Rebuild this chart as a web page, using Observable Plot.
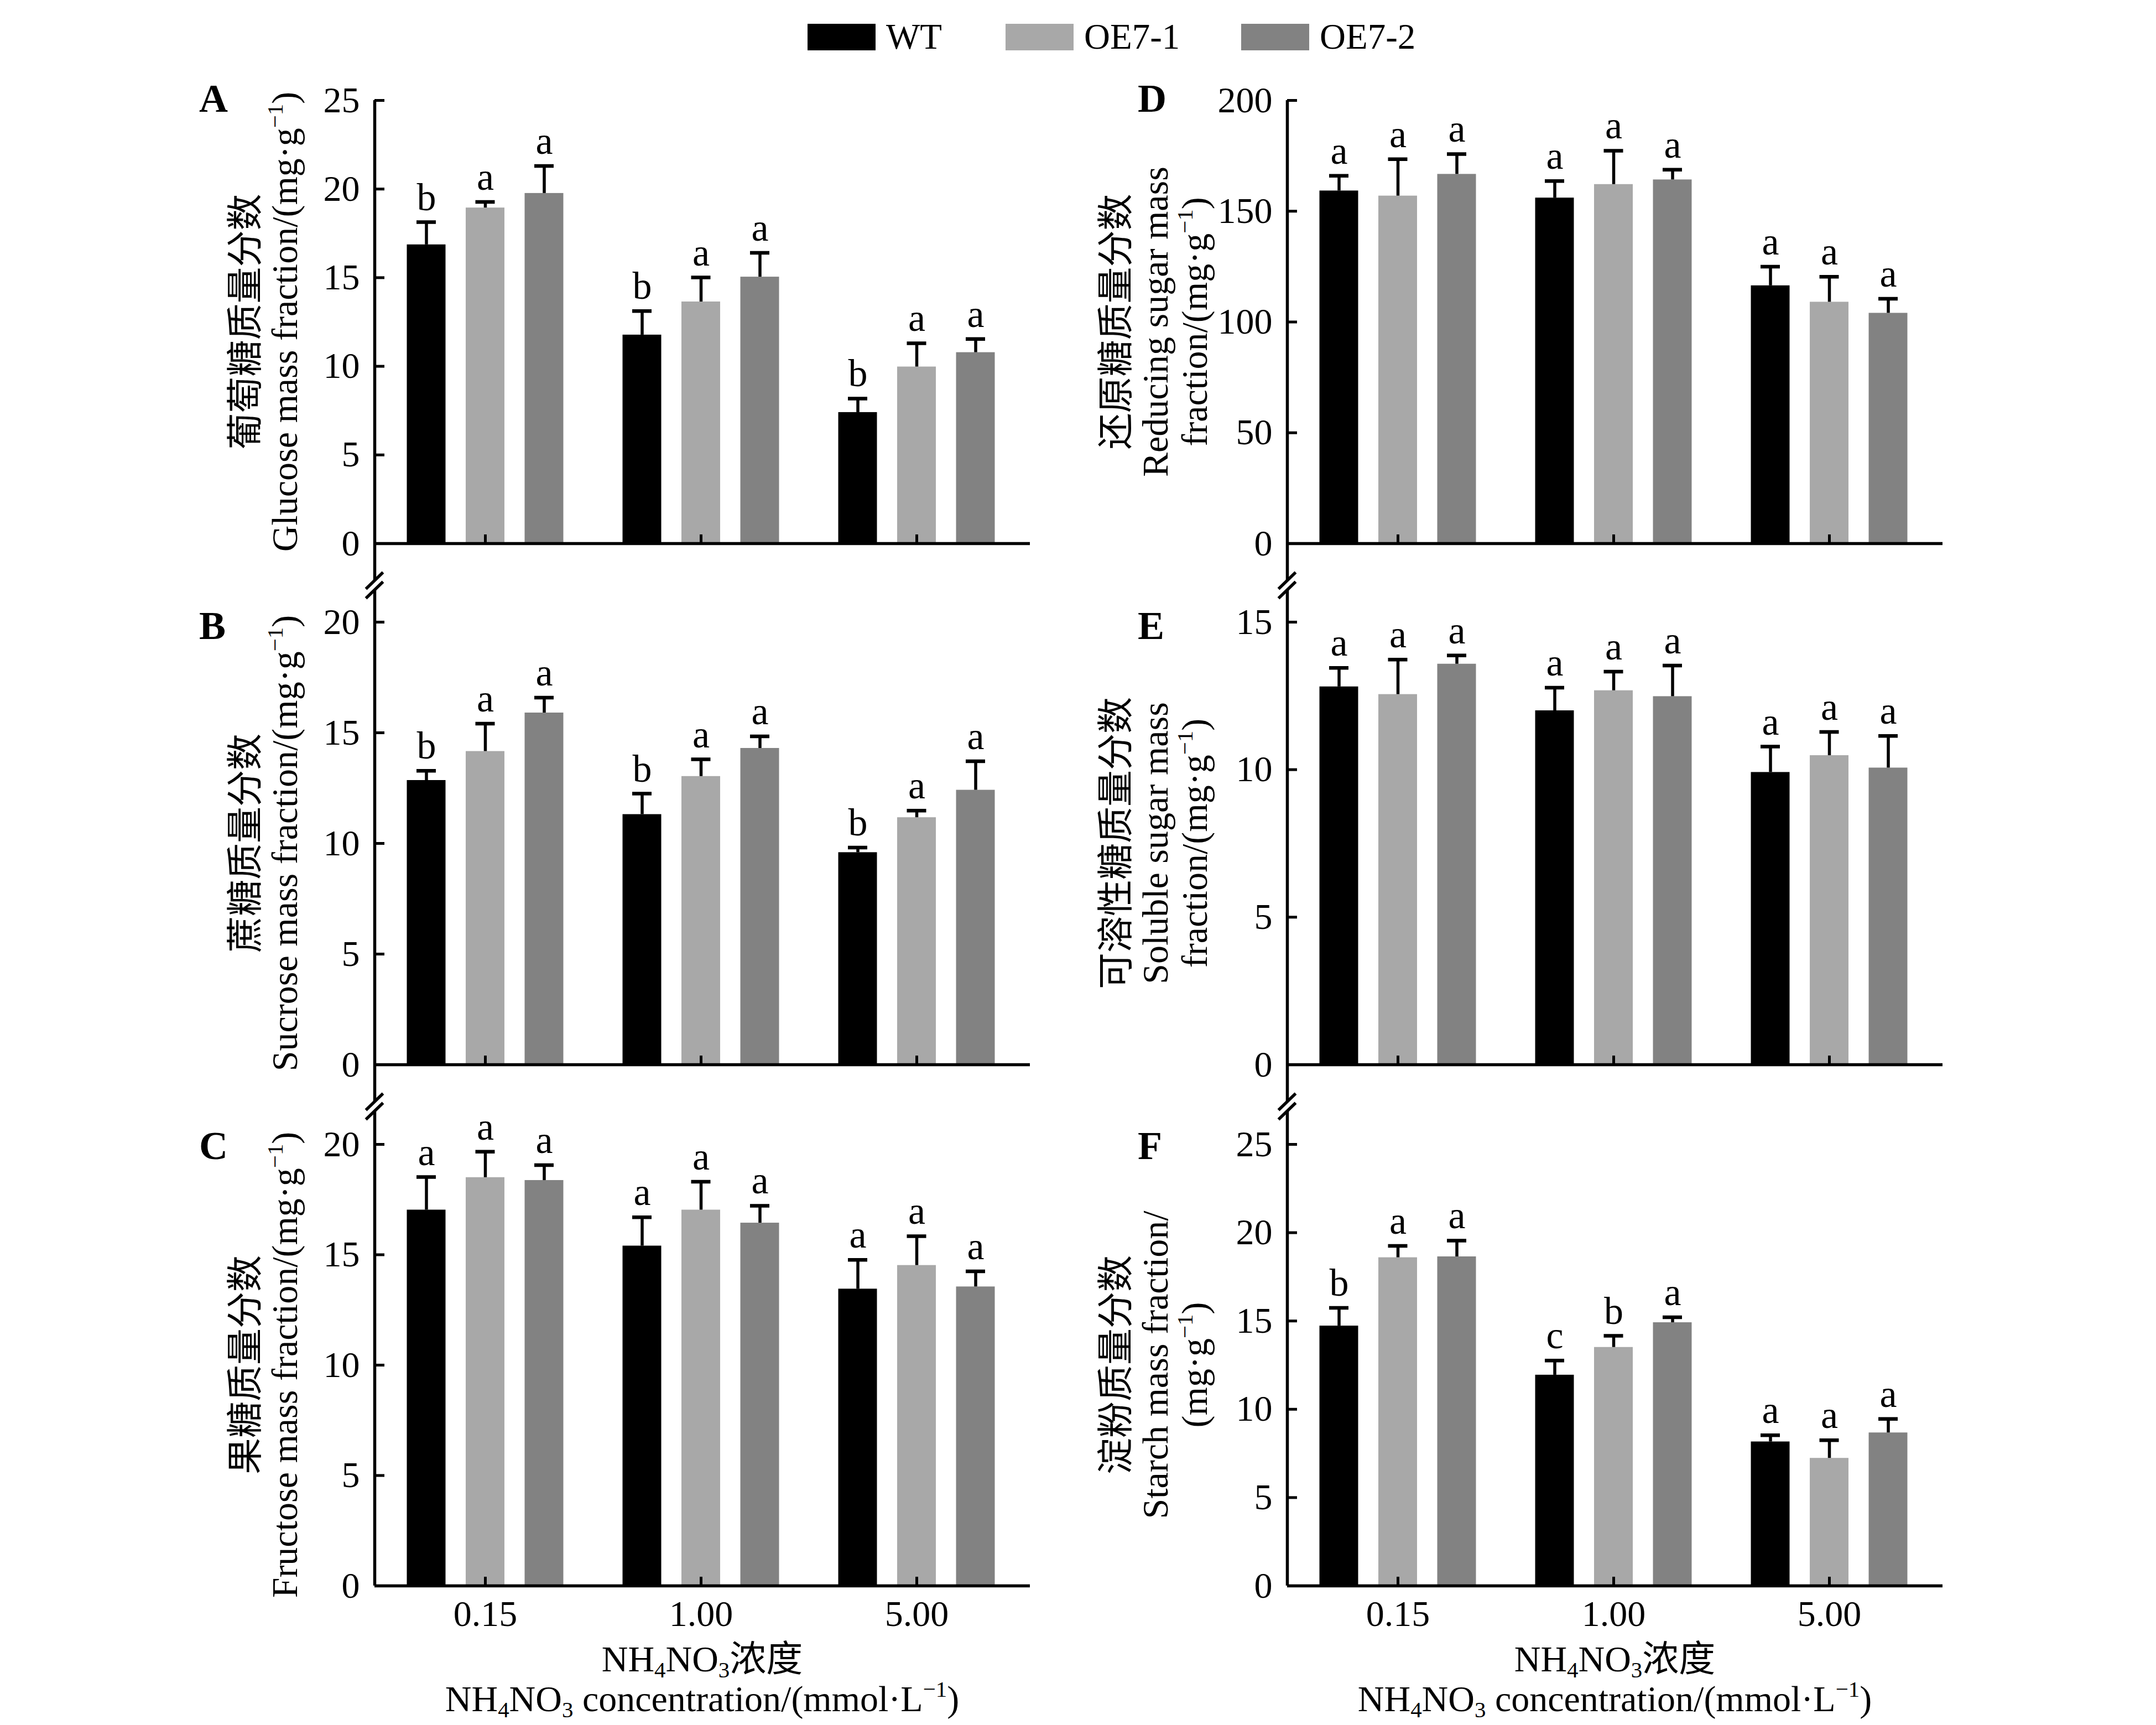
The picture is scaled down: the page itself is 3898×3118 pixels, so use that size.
<!DOCTYPE html>
<html><head><meta charset="utf-8">
<script src="https://cdn.jsdelivr.net/npm/d3@7"></script>
<script src="https://cdn.jsdelivr.net/npm/@observablehq/plot@0.6"></script>
<style>
html,body{margin:0;padding:0;background:#fff;}
#fig{position:relative;width:3898px;height:3118px;background:#fff;overflow:hidden;}
#fig > svg{position:absolute;}
</style></head><body><div id="fig"></div>
<script>
// ---------------- data ----------------
const concentrations = ["0.15", "1.00", "5.00"];
const genotypes = ["WT", "OE7-1", "OE7-2"];
const genotypeColors = ["#000000", "#a8a8a8", "#828282"];

// rows: genotype (WT, OE7-1, OE7-2); columns: concentration (0.15, 1.00, 5.00)
const glucoseMean = [[16.86, 11.77, 7.40], [18.94, 13.64, 9.97], [19.76, 15.04, 10.78]];
const glucoseSE   = [[1.27, 1.35, 0.78], [0.33, 1.37, 1.33], [1.54, 1.36, 0.76]];
const glucoseLetters = [["b", "b", "b"], ["a", "a", "a"], ["a", "a", "a"]];
const glucoseTicks = [0, 5, 10, 15, 20, 25];

const sucroseMean = [[12.85, 11.31, 9.59], [14.16, 13.03, 11.17], [15.90, 14.30, 12.41]];
const sucroseSE   = [[0.43, 0.94, 0.22], [1.25, 0.77, 0.31], [0.69, 0.54, 1.30]];
const sucroseLetters = [["b", "b", "b"], ["a", "a", "a"], ["a", "a", "a"]];
const sucroseTicks = [0, 5, 10, 15, 20];

const fructoseMean = [[17.03, 15.40, 13.45], [18.50, 17.03, 14.52], [18.37, 16.44, 13.55]];
const fructoseSE   = [[1.49, 1.30, 1.32], [1.17, 1.28, 1.32], [0.69, 0.78, 0.70]];
const fructoseLetters = [["a", "a", "a"], ["a", "a", "a"], ["a", "a", "a"]];
const fructoseTicks = [0, 5, 10, 15, 20];

const reducingMean = [[159.2, 156.0, 116.4], [156.9, 162.1, 109.0], [166.7, 164.2, 104.0]];
const reducingSE   = [[6.8, 7.6, 8.6], [16.6, 15.2, 11.4], [9.1, 4.5, 6.5]];
const reducingLetters = [["a", "a", "a"], ["a", "a", "a"], ["a", "a", "a"]];
const reducingTicks = [0, 50, 100, 150, 200];

const solubleMean = [[12.81, 12.00, 9.91], [12.55, 12.68, 10.48], [13.58, 12.48, 10.06]];
const solubleSE   = [[0.64, 0.78, 0.87], [1.18, 0.64, 0.80], [0.29, 1.05, 1.08]];
const solubleLetters = [["a", "a", "a"], ["a", "a", "a"], ["a", "a", "a"]];
const solubleTicks = [0, 5, 10, 15];

const starchMean = [[14.72, 11.94, 8.16], [18.59, 13.51, 7.23], [18.64, 14.91, 8.67]];
const starchSE   = [[1.02, 0.82, 0.37], [0.66, 0.65, 1.02], [0.91, 0.30, 0.78]];
const starchLetters = [["b", "c", "a"], ["a", "b", "a"], ["a", "a", "a"]];
const starchTicks = [0, 5, 10, 15, 20, 25];

// ---------------- layout ----------------
const SERIF = "'Liberation Serif','Times New Roman',serif";
const MIXED = "'Liberation Serif','Noto Sans CJK SC',serif";
const FS = 66;
const colSvgLeft = [300, 1950];
const svgW = 1600, mL = 377, mR = 38;
const xDomain = [-0.5128, 2.5256];
const rowRange = [[181, 1058], [1058, 2000], [2000, 2866]];
const unitPx = (svgW - mL - mR) / (xDomain[1] - xDomain[0]);
const inner = d3.scaleBand().domain(genotypes).range([-0.5, 0.5]).paddingInner(0.343).paddingOuter(0.5025);
const bw = inner.bandwidth();
const capHalf = 17.5 / unitPx;
const yTickLen = 18 / unitPx;

const panels = [
  {id: "A", col: 0, row: 0, mean: glucoseMean, se: glucoseSE, letters: glucoseLetters, ticks: glucoseTicks, zeroPx: 982, topPx: 181,
   title: ["葡萄糖质量分数", "Glucose mass fraction/(mg·g^{−1})"]},
  {id: "B", col: 0, row: 1, mean: sucroseMean, se: sucroseSE, letters: sucroseLetters, ticks: sucroseTicks, zeroPx: 1924, topPx: 1124,
   title: ["蔗糖质量分数", "Sucrose mass fraction/(mg·g^{−1})"]},
  {id: "C", col: 0, row: 2, mean: fructoseMean, se: fructoseSE, letters: fructoseLetters, ticks: fructoseTicks, zeroPx: 2866, topPx: 2068,
   title: ["果糖质量分数", "Fructose mass fraction/(mg·g^{−1})"]},
  {id: "D", col: 1, row: 0, mean: reducingMean, se: reducingSE, letters: reducingLetters, ticks: reducingTicks, zeroPx: 982, topPx: 181,
   title: ["还原糖质量分数", "Reducing sugar mass", "fraction/(mg·g^{−1})"]},
  {id: "E", col: 1, row: 1, mean: solubleMean, se: solubleSE, letters: solubleLetters, ticks: solubleTicks, zeroPx: 1924, topPx: 1124,
   title: ["可溶性糖质量分数", "Soluble sugar mass", "fraction/(mg·g^{−1})"]},
  {id: "F", col: 1, row: 2, mean: starchMean, se: starchSE, letters: starchLetters, ticks: starchTicks, zeroPx: 2866, topPx: 2068,
   title: ["淀粉质量分数", "Starch mass fraction/", "(mg·g^{−1})"]},
];

const fig = document.getElementById("fig");

const xLeft = d => d.gi + inner(d.geno);
const xCenter = d => d.gi + inner(d.geno) + bw / 2;

for (const p of panels) {
  const rows = [];
  genotypes.forEach((geno, s) => concentrations.forEach((conc, g) => {
    rows.push({geno, conc, gi: g, mean: p.mean[s][g], top: p.mean[s][g] + p.se[s][g], letter: p.letters[s][g]});
  }));
  const topVal = p.ticks[p.ticks.length - 1];
  const ppu = (p.zeroPx - p.topPx) / topVal;
  const [rTop, rBot] = rowRange[p.row];
  const hi = (p.zeroPx - rTop) / ppu;
  const lo = -(rBot - p.zeroPx) / ppu;
  const mt = 60, mb = p.row === 2 ? 110 : 10;
  const height = mt + (rBot - rTop) + mb;
  const chart = Plot.plot({
    width: svgW, height,
    marginLeft: mL, marginRight: mR, marginTop: mt, marginBottom: mb,
    style: {fontFamily: SERIF, fontSize: FS + "px", background: "transparent", overflow: "visible", color: "black"},
    x: {domain: xDomain, axis: p.row === 2 ? "bottom" : null, ticks: [0, 1, 2], tickFormat: i => concentrations[i], tickSize: 0, tickPadding: 26, label: null},
    y: {domain: [lo, hi], ticks: p.ticks, tickSize: 0, tickPadding: 27, tickFormat: d => String(d), label: null},
    color: {domain: genotypes, range: genotypeColors},
    marks: [
      Plot.rect(rows, {x1: xLeft, x2: d => xLeft(d) + bw, y1: 0, y2: "mean", fill: "geno"}),
      Plot.ruleX(rows, {x: xCenter, y1: "mean", y2: "top", stroke: "black", strokeWidth: 5.5}),
      Plot.ruleY(rows, {y: "top", x1: d => xCenter(d) - capHalf, x2: d => xCenter(d) + capHalf, stroke: "black", strokeWidth: 6.5}),
      Plot.text(rows, {x: xCenter, y: "top", text: "letter", dy: -22, lineAnchor: "bottom", fontSize: 70, fill: "black"}),
      Plot.ruleY([0], {stroke: "black", strokeWidth: 5.5}),
      Plot.ruleX([xDomain[0]], {stroke: "black", strokeWidth: 5.5}),
      Plot.ruleY(p.ticks, {x1: xDomain[0], x2: xDomain[0] + yTickLen, stroke: "black", strokeWidth: 5}),
      Plot.ruleX([0, 1, 2], {y1: 0, y2: 16 / ppu, stroke: "black", strokeWidth: 5})
    ]
  });
  chart.style.left = colSvgLeft[p.col] + "px";
  chart.style.top = (rTop - mt) + "px";
  chart.style.position = "absolute";
  fig.appendChild(chart);
}

// ---------------- overlay: legend, titles, letters, axis breaks ----------------
const ov = d3.select(fig).append("svg")
  .attr("width", 3898).attr("height", 3118)
  .style("left", "0px").style("top", "0px").style("position", "absolute")
  .style("font-family", MIXED).style("font-size", FS + "px");

function rich(sel, str, fs) {
  const parts = str.split(/(\^\{[^}]*\}|_\{[^}]*\})/).filter(s => s.length);
  let shift = 0;
  for (const part of parts) {
    let t = part, target = 0, size = fs;
    if (part.startsWith("^{")) { t = part.slice(2, -1); target = -0.4 * fs; size = 0.62 * fs; }
    else if (part.startsWith("_{")) { t = part.slice(2, -1); target = 0.17 * fs; size = 0.62 * fs; }
    sel.append("tspan").attr("dy", target - shift).attr("font-size", size).text(t);
    shift = target;
  }
}

// legend
const legX = [1460, 1818, 2244];
genotypes.forEach((g, i) => {
  ov.append("rect").attr("x", legX[i]).attr("y", 43).attr("width", 123).attr("height", 48)
    .attr("fill", genotypeColors[i]);
  ov.append("text").attr("x", legX[i] + 142).attr("y", 88).attr("font-family", SERIF).attr("font-size", 65).text(g);
});

// panel letters
const letterX = [360, 2057];
const letterBase = [202, 1155, 2095];
for (const p of panels) {
  ov.append("text").attr("x", letterX[p.col]).attr("y", letterBase[p.row])
    .attr("font-family", SERIF).attr("font-weight", "bold").attr("font-size", 72).text(p.id);
}

// y titles
const titleBase = [[466, 537], [2040, 2111, 2182]];
for (const p of panels) {
  const cy = (p.zeroPx + p.topPx) / 2;
  p.title.forEach((line, k) => {
    const bx = titleBase[p.col][k];
    const t = ov.append("text").attr("text-anchor", "middle")
      .attr("transform", `translate(${bx},${cy}) rotate(-90)`);
    rich(t, line, FS);
  });
}

// x titles
const xMid = [(677 + 1862) / 2, (2327 + 3512) / 2];
for (const c of [0, 1]) {
  const t1 = ov.append("text").attr("text-anchor", "middle").attr("x", xMid[c]).attr("y", 3021);
  rich(t1, "NH_{4}NO_{3}浓度", FS);
  const t2 = ov.append("text").attr("text-anchor", "middle").attr("x", xMid[c]).attr("y", 3093);
  rich(t2, "NH_{4}NO_{3} concentration/(mmol·L^{−1})", FS);
}

// axis breaks
const axisX = [677, 2327];
for (const ax of axisX) for (const cy of [1058, 2000]) {
  const a = cy - 8.5, b = cy + 8.5;
  ov.append("polygon")
    .attr("points", `${ax - 15.5},${a + 15} ${ax + 15.5},${a - 15} ${ax + 15.5},${b - 15} ${ax - 15.5},${b + 15}`)
    .attr("fill", "white");
  for (const c of [a, b]) {
    ov.append("line").attr("x1", ax - 15.5).attr("y1", c + 15).attr("x2", ax + 15.5).attr("y2", c - 15)
      .attr("stroke", "black").attr("stroke-width", 5.5);
  }
}
</script></body></html>
